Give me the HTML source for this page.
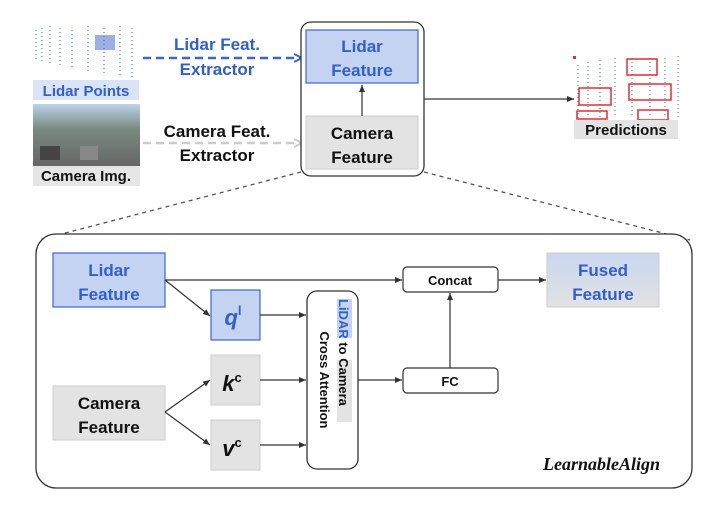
<!DOCTYPE html>
<html><head><style>
body{margin:0;width:721px;height:520px;background:#fff;font-family:"Liberation Sans",sans-serif;overflow:hidden}
svg{position:absolute;left:0;top:0}
</style></head><body>
<svg width="721" height="520" viewBox="0 0 721 520" font-family="Liberation Sans, sans-serif" font-weight="bold">
<defs>
<marker id="a" markerWidth="8" markerHeight="8" refX="7" refY="4" orient="auto" markerUnits="userSpaceOnUse"><path d="M0,1 L7,4 L0,7z" fill="#333"/></marker>
<marker id="ab" markerWidth="10" markerHeight="10" refX="8" refY="5" orient="auto" markerUnits="userSpaceOnUse"><path d="M0,1 L8,5 L0,9" fill="none" stroke="#3a66d6" stroke-width="2"/></marker>
<marker id="ag" markerWidth="10" markerHeight="10" refX="8" refY="5" orient="auto" markerUnits="userSpaceOnUse"><path d="M0,1 L8,5 L0,9" fill="none" stroke="#ccc" stroke-width="2"/></marker>
<linearGradient id="cam" x1="0" y1="0" x2="0" y2="1"><stop offset="0" stop-color="#bcd3ea"/><stop offset="0.4" stop-color="#7a8a80"/><stop offset="1" stop-color="#666"/></linearGradient>
<linearGradient id="fz" x1="0" y1="0" x2="0" y2="1"><stop offset="0" stop-color="#c9d7f0"/><stop offset="1" stop-color="#e2e2e2"/></linearGradient>
</defs>
<g stroke="#5a7fd8" stroke-width="1.2" stroke-dasharray="1 3">
<path d="M36,30 L36,60 M42,28 L42,62 M50,26 L50,64 M60,28 L60,66 M72,30 L72,70 M88,26 L88,72 M104,28 L104,74 M120,26 L120,76 M132,28 L132,78"/>
</g>
<rect x="95" y="35" width="20" height="15" fill="#3a5fc8" opacity="0.5"/>
<rect x="33" y="80" width="106" height="20" fill="#dbe4f6"/>
<text x="86" y="96" font-size="15" fill="#2f5fd0" text-anchor="middle">Lidar Points</text>
<rect x="33" y="104" width="107" height="62" fill="url(#cam)"/>
<rect x="40" y="146" width="20" height="14" fill="#444"/><rect x="80" y="146" width="18" height="14" fill="#888"/>
<rect x="33" y="166" width="107" height="20" fill="#e6e6e6"/>
<text x="86" y="181" font-size="15" fill="#111" text-anchor="middle">Camera Img.</text>
<text x="217" y="50" font-size="17" fill="#2f5fd0" text-anchor="middle">Lidar Feat.</text>
<text x="217" y="75" font-size="17" fill="#2f5fd0" text-anchor="middle">Extractor</text>
<line x1="143" y1="58" x2="302" y2="58" stroke="#3a66d6" stroke-width="2.5" stroke-dasharray="8 5" marker-end="url(#ab)"/>
<text x="217" y="137" font-size="17" fill="#111" text-anchor="middle">Camera Feat.</text>
<text x="217" y="161" font-size="17" fill="#111" text-anchor="middle">Extractor</text>
<line x1="143" y1="143" x2="302" y2="143" stroke="#ccc" stroke-width="2.5" stroke-dasharray="8 5" marker-end="url(#ag)"/>
<rect x="301" y="22" width="123" height="154" rx="10" fill="#fff" stroke="#333" stroke-width="1.3"/>
<rect x="306" y="30" width="112" height="53" fill="#c3d3f1" stroke="#3a66d6" stroke-width="1.2"/>
<text x="362" y="52" font-size="17" fill="#2f5fd0" text-anchor="middle">Lidar</text>
<text x="362" y="76" font-size="17" fill="#2f5fd0" text-anchor="middle">Feature</text>
<rect x="306" y="116" width="112" height="53" fill="#e3e3e3" stroke="#ccc"/>
<text x="362" y="139" font-size="17" fill="#111" text-anchor="middle">Camera</text>
<text x="362" y="163" font-size="17" fill="#111" text-anchor="middle">Feature</text>
<line x1="362" y1="116" x2="362" y2="85" stroke="#333" stroke-width="1.2" marker-end="url(#a)"/>
<line x1="424" y1="99" x2="574" y2="99" stroke="#333" stroke-width="1.3" marker-end="url(#a)"/>
<g stroke="#5a7fd8" stroke-width="1.2" stroke-dasharray="1 3">
<path d="M578,65 L578,118 M588,62 L588,118 M600,60 L600,118 M615,58 L615,118 M632,58 L632,118 M650,58 L650,118 M665,58 L665,118 M678,56 L678,118"/>
</g>
<g fill="none" stroke="#e03030" stroke-width="1.5">
<rect x="627" y="59" width="30" height="16"/><rect x="579" y="88" width="32" height="17"/>
<rect x="629" y="84" width="42" height="16"/><rect x="577" y="111" width="30" height="8"/><rect x="638" y="110" width="30" height="10"/>
</g>
<rect x="573" y="56" width="3" height="3" fill="#e03030"/>
<rect x="574" y="120" width="104" height="19" fill="#e3e3e3"/>
<text x="626" y="135" font-size="15" fill="#111" text-anchor="middle">Predictions</text>
<line x1="301" y1="172" x2="38" y2="240" stroke="#555" stroke-width="1.3" stroke-dasharray="4 4"/>
<line x1="424" y1="172" x2="690" y2="240" stroke="#555" stroke-width="1.3" stroke-dasharray="4 4"/>
<rect x="36" y="234" width="656" height="254" rx="20" fill="#fff" stroke="#333" stroke-width="1.3"/>
<rect x="53" y="253" width="112" height="54" fill="#c3d3f1" stroke="#3a66d6" stroke-width="1.2"/>
<text x="109" y="276" font-size="17" fill="#2f5fd0" text-anchor="middle">Lidar</text>
<text x="109" y="300" font-size="17" fill="#2f5fd0" text-anchor="middle">Feature</text>
<rect x="53" y="386" width="112" height="54" fill="#e3e3e3" stroke="#ccc"/>
<text x="109" y="409" font-size="17" fill="#111" text-anchor="middle">Camera</text>
<text x="109" y="433" font-size="17" fill="#111" text-anchor="middle">Feature</text>
<rect x="211" y="290" width="49" height="50" fill="#c3d3f1" stroke="#3a66d6" stroke-width="1.2"/>
<text x="233" y="325" font-size="22" font-style="italic" fill="#2f5fd0" text-anchor="middle">q<tspan font-size="13" dy="-10" font-style="normal">l</tspan></text>
<rect x="211" y="355" width="49" height="50" fill="#e3e3e3" stroke="#ccc"/>
<text x="232" y="391" font-size="22" font-style="italic" fill="#111" text-anchor="middle">k<tspan font-size="13" dy="-9" font-style="normal">c</tspan></text>
<rect x="211" y="420" width="49" height="50" fill="#e3e3e3" stroke="#ccc"/>
<text x="232" y="456" font-size="22" font-style="italic" fill="#111" text-anchor="middle">v<tspan font-size="13" dy="-9" font-style="normal">c</tspan></text>
<line x1="165" y1="280" x2="210" y2="316" stroke="#333" stroke-width="1.2" marker-end="url(#a)"/>
<line x1="165" y1="412" x2="210" y2="380" stroke="#333" stroke-width="1.2" marker-end="url(#a)"/>
<line x1="165" y1="412" x2="210" y2="445" stroke="#333" stroke-width="1.2" marker-end="url(#a)"/>
<rect x="307" y="291" width="51" height="178" rx="10" fill="#fff" stroke="#333" stroke-width="1.3"/>
<g transform="translate(339,380) rotate(90)">
<rect x="-81" y="-13" width="39" height="15" fill="#c3d3f1"/>
<rect x="-20" y="-13" width="62" height="15" fill="#e3e3e3"/>
<text x="-81" y="0" font-size="13" fill="#2f5fd0">LiDAR<tspan fill="#111"> to Camera</tspan></text>
<text x="0" y="19" font-size="13" fill="#111" text-anchor="middle">Cross Attention</text>
</g>
<line x1="260" y1="315" x2="306" y2="315" stroke="#333" stroke-width="1.2" marker-end="url(#a)"/>
<line x1="260" y1="380" x2="306" y2="380" stroke="#333" stroke-width="1.2" marker-end="url(#a)"/>
<line x1="260" y1="445" x2="306" y2="445" stroke="#333" stroke-width="1.2" marker-end="url(#a)"/>
<rect x="403" y="267" width="95" height="25" rx="4" fill="#fff" stroke="#333" stroke-width="1.2"/>
<text x="450" y="285" font-size="13" fill="#111" text-anchor="middle">Concat</text>
<rect x="403" y="368" width="95" height="25" rx="4" fill="#fff" stroke="#333" stroke-width="1.2"/>
<text x="450" y="386" font-size="13" fill="#111" text-anchor="middle">FC</text>
<line x1="165" y1="280" x2="402" y2="280" stroke="#333" stroke-width="1.2" marker-end="url(#a)"/>
<line x1="358" y1="380" x2="402" y2="380" stroke="#333" stroke-width="1.2" marker-end="url(#a)"/>
<line x1="450" y1="368" x2="450" y2="293" stroke="#333" stroke-width="1.2" marker-end="url(#a)"/>
<line x1="498" y1="280" x2="546" y2="280" stroke="#333" stroke-width="1.2" marker-end="url(#a)"/>
<rect x="547" y="253" width="112" height="54" fill="url(#fz)" stroke="#ccc"/>
<text x="603" y="276" font-size="17" fill="#2f5fd0" text-anchor="middle">Fused</text>
<text x="603" y="300" font-size="17" fill="#2f5fd0" text-anchor="middle">Feature</text>
<text x="660" y="470" font-size="18" font-style="italic" font-family="Liberation Serif, serif" fill="#111" text-anchor="end">LearnableAlign</text>
</svg>
</body></html>
